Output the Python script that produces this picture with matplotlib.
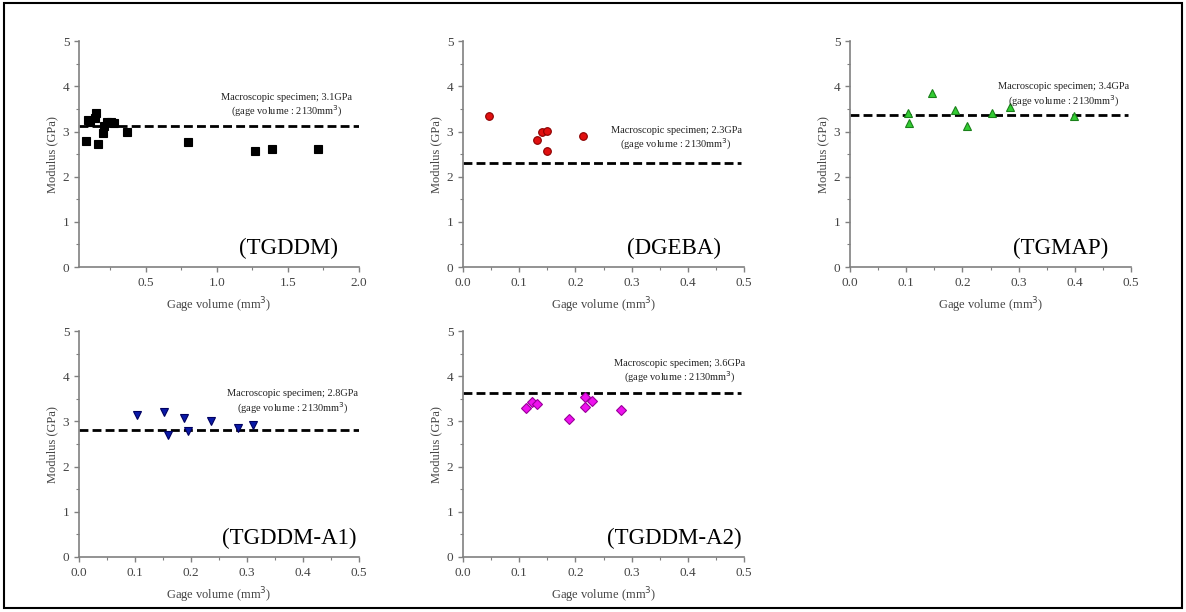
import matplotlib
matplotlib.use("Agg")
import matplotlib.pyplot as plt
from matplotlib.patches import Rectangle
from matplotlib.ticker import MultipleLocator

plt.rcParams["font.family"] = ["Liberation Serif", "DejaVu Serif"]

# data
tgddm_x = [0.078, 0.095, 0.11, 0.145, 0.150, 0.165, 0.196, 0.208, 0.23, 0.255, 0.275, 0.366, 0.80, 1.27, 1.39, 1.71]
tgddm_y = [2.80, 3.26, 3.20, 3.29, 3.40, 2.73, 2.96, 3.12, 3.20, 3.21, 3.18, 2.98, 2.76, 2.56, 2.61, 2.62]
dgeba_x = [0.046, 0.132, 0.140, 0.149, 0.149, 0.213]
dgeba_y = [3.35, 2.82, 2.98, 3.01, 2.57, 2.90]
tgmap_x = [0.103, 0.105, 0.146, 0.187, 0.209, 0.252, 0.285, 0.399]
tgmap_y = [3.42, 3.18, 3.86, 3.47, 3.13, 3.40, 3.55, 3.34]
a1_x = [0.103, 0.152, 0.159, 0.188, 0.194, 0.235, 0.284, 0.311]
a1_y = [3.15, 3.22, 2.71, 3.07, 2.79, 3.02, 2.85, 2.93]
a2_x = [0.112, 0.123, 0.131, 0.189, 0.217, 0.217, 0.230, 0.281]
a2_y = [3.30, 3.43, 3.38, 3.05, 3.54, 3.31, 3.45, 3.26]

names = ["(TGDDM)", "(DGEBA)", "(TGMAP)", "(TGDDM-A1)", "(TGDDM-A2)"]
macro = [3.13, 2.3, 3.37, 2.82, 3.64]
macro_txt = ["3.1GPa", "2.3GPa", "3.4GPa", "2.8GPa", "3.6GPa"]

# styling / layout
panels = [
    dict(x=tgddm_x, y=tgddm_y, marker="s", fc="black", ec="black", ms=5.5,
         rect=[0.0666, 0.5637, 0.236, 0.369], xlim=(0.03, 2.0), major=0.5, minor=0.25,
         line=(0.03, 2.0), txt=(1.49, 3.56)),
    dict(x=dgeba_x, y=dgeba_y, marker="o", fc="#e01010", ec="#8a0000", ms=5.5,
         rect=[0.3904, 0.5637, 0.237, 0.369], xlim=(0, 0.5), major=0.1, minor=0.05,
         line=(0.0, 0.495), txt=(0.379, 2.83)),
    dict(x=tgmap_x, y=tgmap_y, marker="^", fc="#33cc33", ec="#1a801a", ms=6,
         rect=[0.7167, 0.5637, 0.237, 0.369], xlim=(0, 0.5), major=0.1, minor=0.05,
         line=(0.0, 0.495), txt=(0.380, 3.80)),
    dict(x=a1_x, y=a1_y, marker="v", fc="#0a1aa8", ec="#000060", ms=6,
         rect=[0.0666, 0.0899, 0.236, 0.369], xlim=(0, 0.5), major=0.1, minor=0.05,
         line=(0.0, 0.5), txt=(0.382, 3.42)),
    dict(x=a2_x, y=a2_y, marker="D", fc="#ee11ee", ec="#990099", ms=5,
         rect=[0.3904, 0.0899, 0.237, 0.369], xlim=(0, 0.5), major=0.1, minor=0.05,
         line=(0.0, 0.495), txt=(0.385, 4.10)),
]

fig = plt.figure(figsize=(11.86, 6.12), dpi=100)
fig.patch.set_facecolor("white")
fig.add_artist(Rectangle((0.003, 0.006), 0.994, 0.989, transform=fig.transFigure,
                         fill=False, ec="black", lw=1.5))

grey = "#808080"
for p, name, m, mt in zip(panels, names, macro, macro_txt):
    ax = fig.add_axes(p["rect"])
    ax.plot(p["x"], p["y"], linestyle="none", marker=p["marker"], ms=p["ms"],
            mfc=p["fc"], mec=p["ec"], mew=0.8, zorder=3)
    ax.plot(p["line"], [m, m], color="black", lw=2, linestyle=(0, (3.2, 1.5)), zorder=2)
    ax.text(p["txt"][0], p["txt"][1],
            "Macroscopic specimen; " + mt + "\n(gage volume : 2130mm$^3$)",
            ha="center", va="center", fontsize=7.5, color="#222222", linespacing=1.2)
    ax.text(0.75, 0.08, name, transform=ax.transAxes, ha="center", va="center",
            fontsize=16.5, color="black")
    ax.set_xlim(*p["xlim"])
    ax.set_ylim(0, 5)
    ax.xaxis.set_major_locator(MultipleLocator(p["major"]))
    ax.xaxis.set_minor_locator(MultipleLocator(p["minor"]))
    ax.yaxis.set_major_locator(MultipleLocator(1))
    ax.yaxis.set_minor_locator(MultipleLocator(0.5))
    for s in ["top", "right"]:
        ax.spines[s].set_visible(False)
    for s in ["left", "bottom"]:
        ax.spines[s].set_color(grey)
        ax.spines[s].set_linewidth(1.2)
    ax.tick_params(which="both", direction="out", colors=grey, labelcolor="#444444",
                   labelsize=9.5)
    ax.tick_params(which="major", length=3.5, width=1)
    ax.tick_params(which="minor", length=2, width=0.8)
    ax.set_xlabel("Gage volume (mm$^3$)", fontsize=9, color="#444444", labelpad=5)
    ax.set_ylabel("Modulus (GPa)", fontsize=9, color="#444444", labelpad=3)

fig.savefig("out.png", dpi=100)
